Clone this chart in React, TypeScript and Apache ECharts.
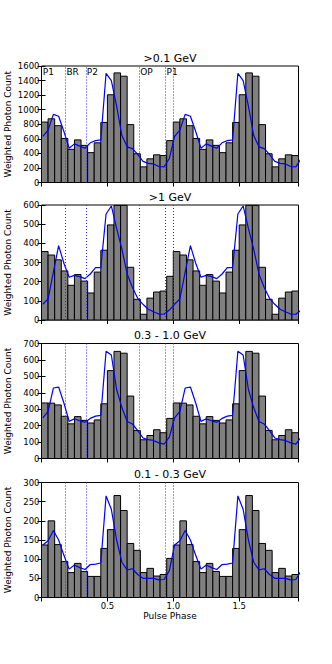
import React, { useEffect, useRef } from 'react';
import * as echarts from 'echarts';

const PANEL_TITLES = ['>0.1 GeV', '>1 GeV', '0.3 - 1.0 GeV', '0.1 - 0.3 GeV'];
const BIN_START = [0.0, 0.05, 0.1, 0.15, 0.2, 0.25, 0.3, 0.35, 0.4, 0.45, 0.5, 0.55, 0.6, 0.65, 0.7, 0.75, 0.8, 0.85, 0.9, 0.95];
const BIN_WIDTH = 0.05;
const COUNTS_ALL = [830, 875, 780, 605, 455, 585, 510, 410, 545, 825, 1205, 1505, 1460, 795, 395, 215, 325, 380, 370, 575];
const COUNTS_GT1 = [357, 339, 314, 256, 181, 237, 203, 141, 250, 364, 496, 598, 598, 275, 108, 30, 114, 146, 151, 228];
const COUNTS_03_10 = [338, 337, 326, 257, 211, 255, 232, 216, 235, 333, 535, 652, 641, 380, 171, 114, 140, 175, 157, 244];
const COUNTS_01_03 = [137, 200, 138, 94, 65, 89, 68, 55, 55, 128, 177, 266, 227, 141, 123, 65, 76, 56, 60, 102];
const MODEL_PHASE = [0.01, 0.05, 0.09, 0.13, 0.17, 0.21, 0.25, 0.29, 0.33, 0.37, 0.41, 0.45, 0.49, 0.53, 0.57, 0.61, 0.65, 0.69, 0.73, 0.77, 0.81, 0.85, 0.89, 0.93, 0.97];
const MODEL_ALL = [635, 720, 935, 910, 700, 470, 530, 500, 470, 545, 575, 585, 1500, 1400, 1050, 645, 490, 465, 385, 290, 262, 255, 220, 215, 330];
const MODEL_GT1 = [82, 110, 250, 388, 296, 223, 233, 226, 216, 240, 273, 273, 553, 595, 478, 370, 240, 170, 113, 82, 56, 43, 31, 30, 52];
const MODEL_03_10 = [248, 287, 429, 435, 338, 226, 242, 230, 220, 244, 258, 262, 653, 630, 420, 310, 225, 210, 170, 125, 115, 110, 95, 88, 130];
const MODEL_01_03 = [137, 148, 175, 150, 110, 74, 85, 78, 73, 86, 87, 90, 265, 230, 150, 92, 72, 75, 60, 50, 50, 50, 46, 47, 70];
const Y_MAX = [1600, 600, 700, 300];
const Y_STEP = [200, 100, 100, 50];
const X_MIN = 0;
const X_MAX = 1.95;
const X_STEP = 0.5;
const REGION_EDGES = [0.18, 0.335, 0.74, 0.94, 1.0];
const REGION_NAMES = ['P1', 'BR', 'P2', 'OP', 'P1'];
const REGION_NAME_PHASE = [0, 0.18, 0.335, 0.74, 0.94];

const COUNTS = [COUNTS_ALL, COUNTS_GT1, COUNTS_03_10, COUNTS_01_03];
const MODELS = [MODEL_ALL, MODEL_GT1, MODEL_03_10, MODEL_01_03];

const FONT = 'DejaVu Sans';
const GRID_LEFT = 41.5;
const GRID_WIDTH = 257;
const GRID_TOP = [66, 205, 343.5, 482.5];
const GRID_HEIGHT = [116.5, 115, 115, 115];

function buildBars(counts: number[]) {
  const out: number[][] = [];
  for (let c = 0; c < 2; c++) {
    for (let i = 0; i < BIN_START.length; i++) {
      const s = BIN_START[i] + c;
      if (s + BIN_WIDTH <= X_MAX + 1e-9) out.push([s, s + BIN_WIDTH, counts[i]]);
    }
  }
  return out;
}

function buildModel(model: number[]) {
  const out: number[][] = [];
  for (let c = 0; c < 2; c++) {
    for (let i = 0; i < MODEL_PHASE.length; i++) {
      out.push([MODEL_PHASE[i] + c, model[i]]);
    }
  }
  return out;
}

export default function App() {
  const ref = useRef<HTMLDivElement>(null);
  useEffect(() => {
    if (!ref.current) return;
    const chart = echarts.init(ref.current, null, { renderer: 'svg' });
    const grids: any[] = [];
    const xAxes: any[] = [];
    const yAxes: any[] = [];
    const series: any[] = [];
    const tickStyle = { inside: true, length: 4, lineStyle: { color: '#000', width: 1 } };
    for (let g = 0; g < 4; g++) {
      grids.push({
        left: GRID_LEFT, top: GRID_TOP[g], width: GRID_WIDTH, height: GRID_HEIGHT[g],
        show: true, borderColor: '#000', borderWidth: 1, backgroundColor: 'transparent',
        containLabel: false, outerBoundsMode: 'none',
      });
      const isLast = g === 3;
      xAxes.push({
        type: 'value', gridIndex: g, position: 'bottom', min: X_MIN, max: X_MAX, interval: X_STEP,
        axisLine: { show: false }, splitLine: { show: false }, axisTick: tickStyle,
        axisLabel: {
          show: isLast, showMinLabel: false, showMaxLabel: false, margin: 4,
          fontSize: 8.5, fontFamily: FONT, color: '#000',
          formatter: (v: number) => v.toFixed(1),
        },
        name: isLast ? 'Pulse Phase' : '', nameLocation: 'middle', nameGap: 14, nameMoveOverlap: false,
        nameTextStyle: { fontSize: 9, fontFamily: FONT, color: '#000' },
      });
      xAxes.push({
        type: 'value', gridIndex: g, position: 'top', min: X_MIN, max: X_MAX, interval: X_STEP,
        axisLine: { show: false }, splitLine: { show: false }, axisTick: tickStyle,
        axisLabel: { show: false },
      });
      yAxes.push({
        type: 'value', gridIndex: g, position: 'left', min: 0, max: Y_MAX[g], interval: Y_STEP[g],
        axisLine: { show: false }, splitLine: { show: false }, axisTick: tickStyle,
        axisLabel: { fontSize: 8.5, fontFamily: FONT, color: '#000', margin: 2, formatter: (v: number) => String(v) },
        name: 'Weighted Photon Count', nameLocation: 'middle', nameGap: 29, nameMoveOverlap: false,
        nameTextStyle: { fontSize: 9, fontFamily: FONT, color: '#000' },
      });
      yAxes.push({
        type: 'value', gridIndex: g, position: 'right', min: 0, max: Y_MAX[g], interval: Y_STEP[g],
        axisLine: { show: false }, splitLine: { show: false }, axisTick: tickStyle,
        axisLabel: { show: false },
      });
      series.push({
        type: 'custom', xAxisIndex: g * 2, yAxisIndex: g * 2,
        data: buildBars(COUNTS[g]),
        encode: { x: [0, 1], y: 2 },
        renderItem: (params: any, api: any) => {
          const a = api.coord([api.value(0), api.value(2)]);
          const b = api.coord([api.value(1), 0]);
          return {
            type: 'rect',
            shape: { x: a[0], y: a[1], width: b[0] - a[0], height: b[1] - a[1] },
            style: { fill: '#808080', stroke: '#000', lineWidth: 1 },
          };
        },
        silent: true,
      });
      series.push({
        type: 'line', xAxisIndex: g * 2, yAxisIndex: g * 2,
        data: buildModel(MODELS[g]),
        showSymbol: false, symbol: 'none',
        lineStyle: { color: '#0000ff', width: 1.2 },
        clip: true, silent: true,
        markLine: {
          silent: true, symbol: ['none', 'none'], label: { show: false },
          lineStyle: { color: '#2a2aff', width: 1, type: [1, 2] },
          data: REGION_EDGES.map((v) => ({ xAxis: v })),
        },
      });
    }
    chart.setOption({
      animation: false,
      backgroundColor: '#fff',
      grid: grids,
      xAxis: xAxes,
      yAxis: yAxes,
      series,
    });
    const graphics: any[] = [];
    for (let g = 0; g < 4; g++) {
      const c = chart.convertToPixel({ gridIndex: g }, [(X_MIN + X_MAX) / 2, Y_MAX[g]]) as number[];
      graphics.push({
        type: 'text', x: c[0], y: c[1] - 8,
        style: { text: PANEL_TITLES[g], fontSize: 11, fontFamily: FONT, fill: '#000', align: 'center', verticalAlign: 'middle' },
      });
    }
    for (let i = 0; i < REGION_NAMES.length; i++) {
      const p = chart.convertToPixel({ gridIndex: 0 }, [REGION_NAME_PHASE[i], Y_MAX[0]]) as number[];
      graphics.push({
        type: 'text', x: p[0] + 1.2, y: p[1] + 1,
        style: { text: REGION_NAMES[i], fontSize: 9, fontFamily: FONT, fill: '#000', align: 'left', verticalAlign: 'top' },
      });
    }
    chart.setOption({ graphic: graphics });
    return () => chart.dispose();
  }, []);
  return (
    <div
      ref={ref}
      style={{ position: 'absolute', left: 0, top: 0, width: 332, height: 664, background: '#fff' }}
    />
  );
}
